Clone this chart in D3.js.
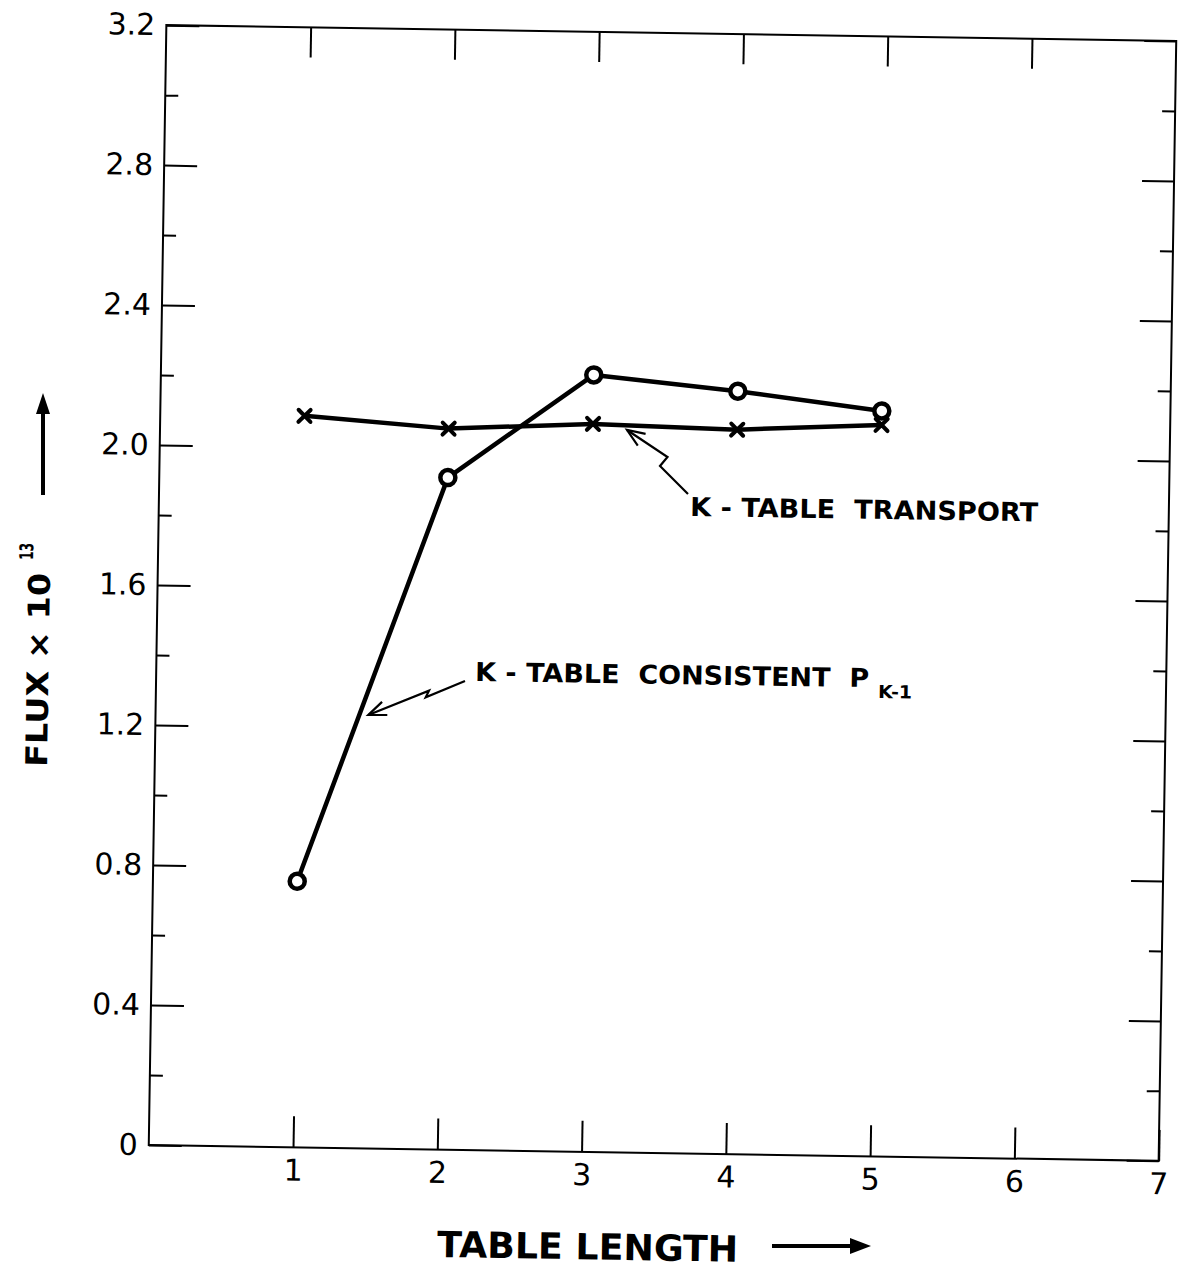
<!DOCTYPE html>
<html><head><meta charset="utf-8">
<script src="https://cdn.jsdelivr.net/npm/d3@7"></script>
<style>html,body{margin:0;padding:0;background:#fff;} svg{display:block;}</style>
</head><body><div id="chart"></div>
<script>
// ---- data ----
const tableLength = [1, 2, 3, 4, 5];
const fluxConsistent = [0.76, 1.92, 2.22, 2.18, 2.13];
const fluxTransport = [2.09, 2.06, 2.08, 2.07, 2.09];
const xTicks = [1, 2, 3, 4, 5, 6, 7];
const xTickLabels = ["1", "2", "3", "4", "5", "6", "7"];
const xInnerTicks = [1, 2, 3, 4, 5, 6];
const yMajorTicks = [0, 0.4, 0.8, 1.2, 1.6, 2.0, 2.4, 2.8, 3.2];
const yTickLabels = ["0", "0.4", "0.8", "1.2", "1.6", "2.0", "2.4", "2.8", "3.2"];
const yMinorTicks = [0.2, 0.6, 1.0, 1.4, 1.8, 2.2, 2.6, 3.0];
const labelTransport = "K - TABLE  TRANSPORT";
const labelConsistent = "K - TABLE  CONSISTENT  P";
const labelConsistentSub = "K-1";
const xTitle = "TABLE LENGTH";
const yTitle = "FLUX × 10";
const yTitleSup = "13";

// ---- layout ----
const W = 1183, H = 1270;
const frame = {left: 157.5, right: 1167.5, top: 33, bottom: 1153};
const tilt = 0.9, cx = 662.5, cy = 593;
const FONT = "DejaVu Sans";

const svg = d3.select('#chart').append('svg').attr('width', W).attr('height', H);
svg.append('rect').attr('width', W).attr('height', H).attr('fill', '#fff');
const g = svg.append('g').attr('transform', `rotate(${tilt},${cx},${cy})`);
const rad = tilt * Math.PI / 180, cs = Math.cos(rad), sn = Math.sin(rad);
function inv(p) { const dx = p[0] - cx, dy = p[1] - cy; return [cx + dx * cs + dy * sn, cy - dx * sn + dy * cs]; }

const x = d3.scaleLinear().domain([0, 7]).range([frame.left, frame.right]);
const y = d3.scaleLinear().domain([0, 3.2]).range([frame.bottom, frame.top]);

function styleAxis(sel) {
  sel.select('.domain').remove();
  sel.attr('font-family', FONT).attr('font-size', 30);
  sel.selectAll('line').attr('stroke', '#000').attr('stroke-width', 2);
  sel.selectAll('text').attr('fill', '#000');
}

// frame
g.append('rect').attr('x', frame.left).attr('y', frame.top)
  .attr('width', frame.right - frame.left).attr('height', frame.bottom - frame.top)
  .attr('fill', 'none').attr('stroke', '#000').attr('stroke-width', 2);

// axes
g.append('g').attr('transform', `translate(0,${frame.bottom})`)
  .call(d3.axisBottom(x).tickValues(xTicks).tickFormat((d, i) => xTickLabels[i])
    .tickSizeInner(-31).tickSizeOuter(0).tickPadding(12)).call(styleAxis);
g.append('g').attr('transform', `translate(0,${frame.top})`)
  .call(d3.axisTop(x).tickValues(xInnerTicks).tickFormat('')
    .tickSizeInner(-30).tickSizeOuter(0)).call(styleAxis);
g.append('g').attr('transform', `translate(${frame.left},0)`)
  .call(d3.axisLeft(y).tickValues(yMajorTicks).tickFormat((d, i) => yTickLabels[i])
    .tickSizeInner(-33).tickSizeOuter(0).tickPadding(11)).call(styleAxis);
g.append('g').attr('transform', `translate(${frame.left},0)`)
  .call(d3.axisLeft(y).tickValues(yMinorTicks).tickFormat('')
    .tickSizeInner(-13).tickSizeOuter(0)).call(styleAxis);
g.append('g').attr('transform', `translate(${frame.right},0)`)
  .call(d3.axisRight(y).tickValues(yMajorTicks).tickFormat('')
    .tickSizeInner(-32).tickSizeOuter(0)).call(styleAxis);
g.append('g').attr('transform', `translate(${frame.right},0)`)
  .call(d3.axisRight(y).tickValues(yMinorTicks).tickFormat('')
    .tickSizeInner(-13).tickSizeOuter(0)).call(styleAxis);

// data lines
const transport = tableLength.map((t, i) => ({x: t, y: fluxTransport[i]}));
const consistent = tableLength.map((t, i) => ({x: t, y: fluxConsistent[i]}));
const line = d3.line().x(d => x(d.x)).y(d => y(d.y));
g.append('path').datum(transport).attr('d', line).attr('fill', 'none')
  .attr('stroke', '#000').attr('stroke-width', 4.5).attr('stroke-linejoin', 'round');
g.append('path').datum(consistent).attr('d', line).attr('fill', 'none')
  .attr('stroke', '#000').attr('stroke-width', 4.5).attr('stroke-linejoin', 'round');
g.selectAll('.xm').data(transport).enter().append('path')
  .attr('transform', d => `translate(${x(d.x)},${y(d.y)})`)
  .attr('d', 'M-6,-6L6,6M-6,6L6,-6').attr('stroke', '#000').attr('stroke-width', 4)
  .attr('stroke-linecap', 'round');
g.selectAll('.om').data(consistent).enter().append('circle')
  .attr('cx', d => x(d.x)).attr('cy', d => y(d.y)).attr('r', 7.5)
  .attr('fill', '#fff').attr('stroke', '#000').attr('stroke-width', 4.5);

// annotations
function addText(pos, str, size, len, weight) {
  const p = inv(pos);
  return g.append('text').attr('x', p[0]).attr('y', p[1]).text(str)
    .attr('font-family', FONT).attr('font-size', size).attr('font-weight', weight || 'bold')
    .attr('fill', '#000').style('white-space', 'pre')
    .attr('textLength', len).attr('lengthAdjust', 'spacingAndGlyphs');
}
addText([690, 516], labelTransport, 26, 348);
addText([475, 681], labelConsistent, 26, 394);
addText([878, 698], labelConsistentSub, 18, 34);
addText([437, 1257], xTitle, 36, 301);

function leader(pts) {
  const P = pts.map(inv);
  g.append('path').attr('d', d3.line()(P)).attr('fill', 'none')
    .attr('stroke', '#000').attr('stroke-width', 2.2).attr('stroke-linejoin', 'miter');
  const tip = P[P.length - 1], prev = P[P.length - 2];
  const ang = Math.atan2(prev[1] - tip[1], prev[0] - tip[0]);
  const L = 19, a = 0.38;
  const arm = s => [tip[0] + L * Math.cos(ang + s * a), tip[1] + L * Math.sin(ang + s * a)];
  g.append('path').attr('d', d3.line()([arm(1), tip, arm(-1)])).attr('fill', 'none')
    .attr('stroke', '#000').attr('stroke-width', 2.2);
}
leader([[688, 494], [660, 466], [667.5, 457], [627, 430]]);
leader([[465, 681], [425.7, 697.3], [429, 690.7], [368.3, 715]]);

// y title (rotated)
const yt = inv([47, 767]);
g.append('text').attr('transform', `translate(${yt[0]},${yt[1]}) rotate(-90)`)
  .text(yTitle).attr('font-family', FONT).attr('font-size', 30).attr('font-weight', 'bold')
  .attr('fill', '#000').attr('textLength', 194).attr('lengthAdjust', 'spacingAndGlyphs');
const ys = inv([33, 560]);
g.append('text').attr('transform', `translate(${ys[0]},${ys[1]}) rotate(-90)`)
  .text(yTitleSup).attr('font-family', FONT).attr('font-size', 19).attr('font-weight', 'bold')
  .attr('fill', '#000').attr('textLength', 17).attr('lengthAdjust', 'spacingAndGlyphs');

// arrows beside titles
function bigArrow(from, shaftEnd, tip, b1, b2) {
  const A = inv(from), B = inv(shaftEnd);
  g.append('line').attr('x1', A[0]).attr('y1', A[1]).attr('x2', B[0]).attr('y2', B[1])
    .attr('stroke', '#000').attr('stroke-width', 4);
  g.append('path').attr('d', d3.line()([inv(tip), inv(b1), inv(b2)]) + 'Z').attr('fill', '#000');
}
bigArrow([43, 495], [43, 408], [43, 393], [36, 414], [50, 414]);
bigArrow([772, 1246], [856, 1246], [871, 1246], [850, 1238], [850, 1254]);
</script>
</body></html>
